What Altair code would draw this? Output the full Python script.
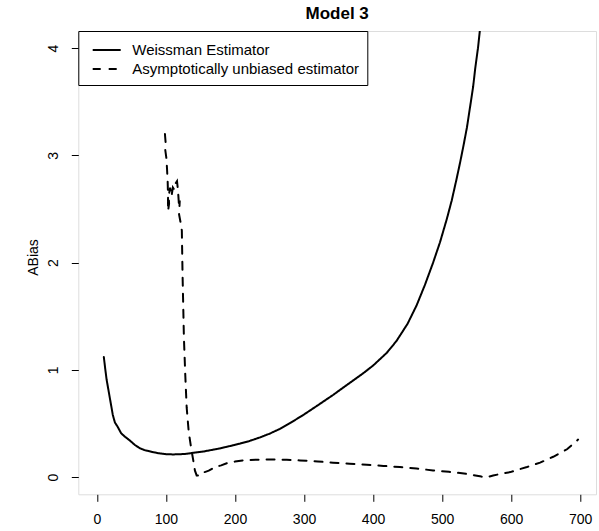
import altair as alt
import pandas as pd

# Weissman Estimator (solid)
w_x = [10, 12, 14, 17, 20, 23, 26, 30, 35, 40, 48, 55, 62, 70, 80, 90, 100, 110, 120, 130,
       145, 155, 165, 175, 185, 197, 207, 220, 236, 250, 265, 280, 299, 320, 342, 360, 372,
       385, 400, 420, 434, 450, 463, 475, 487, 497, 507, 514, 521, 526, 531, 536, 541, 545,
       548, 552, 555, 560, 565]
w_y = [1.12, 1.01, 0.91, 0.80, 0.69, 0.58, 0.51, 0.47, 0.41, 0.38, 0.34, 0.30, 0.27, 0.25,
       0.235, 0.222, 0.214, 0.212, 0.213, 0.218, 0.232, 0.240, 0.252, 0.264, 0.278, 0.297,
       0.312, 0.335, 0.37, 0.405, 0.45, 0.505, 0.58, 0.67, 0.766, 0.85, 0.905, 0.965, 1.04,
       1.16, 1.27, 1.43, 1.60, 1.79, 2.00, 2.19, 2.41, 2.58, 2.78, 2.93, 3.09, 3.26, 3.47,
       3.64, 3.81, 4.00, 4.18, 4.45, 4.75]

# Asymptotically unbiased estimator (dashed)
a_x = [98.5, 99.5, 99, 100.5, 101.5, 102.5, 103, 103, 104.5, 104, 106, 108, 110, 112, 114,
       116, 117, 118, 119, 120, 119, 121, 123, 124, 125, 126, 128, 130, 133, 137, 140, 142,
       144.5, 148, 152, 156, 162, 171, 180, 188, 200, 212, 230, 255, 275, 294, 320, 342,
       366, 391, 415, 439, 463, 487, 510, 536, 557, 566, 574, 585, 599, 610, 623, 642, 661,
       681, 697]
a_y = [3.20, 3.12, 3.05, 2.98, 2.88, 2.75, 2.62, 2.48, 2.55, 2.62, 2.70, 2.62, 2.70, 2.68,
       2.74, 2.76, 2.70, 2.62, 2.52, 2.58, 2.45, 2.38, 2.30, 1.90, 1.60, 1.30, 0.95, 0.65,
       0.42, 0.25, 0.14, 0.06, 0.016, 0.015, 0.02, 0.047, 0.06, 0.094, 0.11, 0.13, 0.145,
       0.156, 0.162, 0.165, 0.162, 0.156, 0.146, 0.135, 0.125, 0.116, 0.105, 0.094, 0.08,
       0.063, 0.05, 0.03, 0.005, 0.0, 0.015, 0.03, 0.047, 0.07, 0.094, 0.135, 0.19, 0.26,
       0.35]

series = ["Weissman Estimator", "Asymptotically unbiased estimator"]
x_ticks = [0, 100, 200, 300, 400, 500, 600, 700]
y_ticks = [0, 1, 2, 3, 4]

rows = []
for i, (x, y) in enumerate(zip(w_x, w_y)):
    rows.append({"k": x, "abias": y, "series": series[0], "idx": i})
for i, (x, y) in enumerate(zip(a_x, a_y)):
    rows.append({"k": x, "abias": y, "series": series[1], "idx": i})
df = pd.DataFrame(rows)

FONT = "Liberation Sans"

chart = alt.Chart(df).mark_line(clip=True, color="black", strokeWidth=2, strokeCap="round").encode(
    x=alt.X("k:Q", scale=alt.Scale(domain=[-27, 723], nice=False, zero=False),
            axis=alt.Axis(values=x_ticks, title=None, domain=False, grid=False,
                          tickSize=7, tickColor="black", labelFontSize=14,
                          labelPadding=11, labelColor="black", labelFont=FONT,
                          labelFlush=False)),
    y=alt.Y("abias:Q", scale=alt.Scale(domain=[-0.16, 4.16], nice=False, zero=False),
            axis=alt.Axis(values=y_ticks, title="ABias", domain=False, grid=False,
                          tickSize=7, tickColor="black", labelFontSize=14,
                          labelAngle=270, labelAlign="center", labelBaseline="bottom",
                          labelPadding=11, labelColor="black", labelFont=FONT,
                          labelFlush=False,
                          titleFont=FONT, titleFontSize=14, titleFontWeight="normal",
                          titleAngle=270, titleAlign="center", titleBaseline="middle",
                          titleX=-45, titleY=226, titleColor="black")),
    strokeDash=alt.StrokeDash("series:N",
                              scale=alt.Scale(domain=series, range=[[1, 0], [8, 8]]),
                              legend=alt.Legend(title=None, orient="none", legendX=0, legendY=0,
                                                symbolType="M-1.4,0L1.4,0", symbolSize=400,
                                                symbolStrokeWidth=2, symbolStrokeColor="black",
                                                labelFontSize=15, labelFont=FONT,
                                                labelColor="black", labelOffset=14.6,
                                                padding=8, symbolOffset=9.4, rowPadding=0,
                                                strokeColor="black", fillColor="white",
                                                labelLimit=400)),
    order="idx:Q",
).properties(
    width=517.7,
    height=463.3,
    title=alt.Title("Model 3", font=FONT, fontSize=17, fontWeight="bold", color="black",
                    anchor="middle", baseline="alphabetic", offset=10, dy=15),
    autosize=alt.AutoSizeParams(type="none"),
    padding={"left": 78.3, "top": 31, "right": 3, "bottom": 36.7},
).configure_view(stroke="black", strokeWidth=1).configure(background="white")

chart.save("out.html", embed_options={"renderer": "svg", "actions": False})
